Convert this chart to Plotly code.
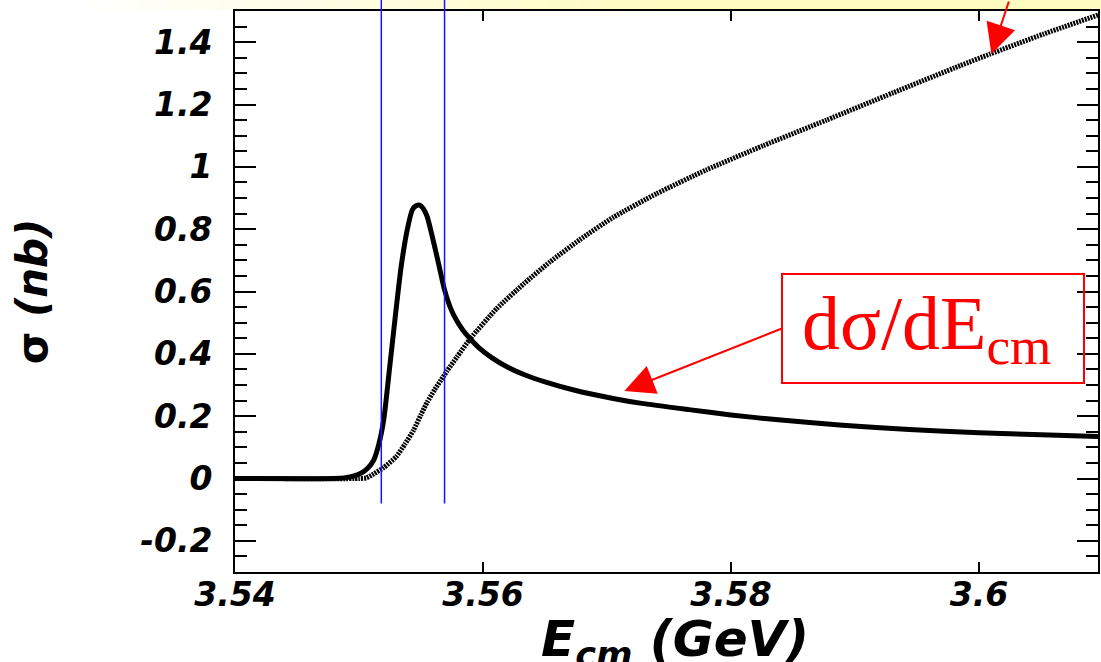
import numpy as np
import plotly.graph_objects as go

# ---------------- data ----------------
# differential cross section dσ/dE_cm (thick solid curve)
e_dsig = [3.5400, 3.5480, 3.5488, 3.5496, 3.5502, 3.5507, 3.5512, 3.5516, 3.5520,
          3.5524, 3.5529, 3.5534, 3.5539, 3.5543, 3.5546, 3.5549, 3.5552, 3.5555,
          3.5563, 3.5569, 3.5574, 3.5579, 3.5584, 3.5590, 3.5598, 3.5607, 3.5620,
          3.5634, 3.5650, 3.5674, 3.5706, 3.5728, 3.5766, 3.5800, 3.5836, 3.5890,
          3.5944, 3.6000, 3.6050, 3.6096]
dsig = [0.0, 0.0, 0.002, 0.008, 0.018, 0.033, 0.06, 0.11, 0.19,
        0.33, 0.51, 0.68, 0.80, 0.862, 0.875, 0.877, 0.865, 0.84,
        0.71, 0.605, 0.545, 0.505, 0.475, 0.447, 0.415, 0.388, 0.357,
        0.332, 0.310, 0.283, 0.256, 0.241, 0.221, 0.204, 0.189, 0.171,
        0.157, 0.147, 0.140, 0.135]

# total cross section σ (hatched curve)
e_sig = [3.5400, 3.5500, 3.5506, 3.5512, 3.5520, 3.5530, 3.5537, 3.5544, 3.5550,
         3.5555, 3.5561, 3.5566, 3.5571, 3.5579, 3.5590, 3.5611, 3.5633, 3.5654,
         3.5678, 3.5705, 3.5740, 3.5780, 3.5826, 3.5877, 3.5931, 3.5985, 3.6009,
         3.6052, 3.6096]
sig = [0.0, 0.0, 0.002, 0.015, 0.035, 0.07, 0.11, 0.155, 0.205,
       0.245, 0.285, 0.315, 0.345, 0.39, 0.45, 0.545, 0.625, 0.695,
       0.766, 0.838, 0.914, 0.99, 1.068, 1.150, 1.238, 1.325, 1.362,
       1.426, 1.487]

# energy window (blue vertical lines)
window_edges = [3.5518, 3.5569]
window_bottom = -0.08

x_range = [3.54, 3.6096]
y_range = [-0.3, 1.5]
x_tick_vals = [3.54, 3.56, 3.58, 3.60]
x_tick_text = ["3.54", "3.56", "3.58", "3.6"]
y_tick_vals = [-0.2, 0.0, 0.2, 0.4, 0.6, 0.8, 1.0, 1.2, 1.4]
y_tick_text = ["-0.2", "0", "0.2", "0.4", "0.6", "0.8", "1", "1.2", "1.4"]

x_title = "E<sub>cm</sub> (GeV)"
y_title = "σ <i>(nb)</i>"
box_label = "\u00a0dσ/dE<sub>cm</sub>"
box_center = (3.59628, 0.480)
box_arrow_tip = (3.5714, 0.281)
sigma_arrow_tip = (3.6010, 1.362)

# ---------------- figure ----------------
W, H = 1101, 662
ml, mr, mt, mb = 235, 3, 11, 90
pw, ph = W - ml - mr, H - mt - mb

fig = go.Figure()

fig.add_trace(go.Scatter(
    x=e_sig, y=sig, mode="lines",
    line=dict(color="black", width=5, dash="2px,1px", shape="spline", smoothing=0.5),
    hoverinfo="skip", showlegend=False))

fig.add_trace(go.Scatter(
    x=e_dsig, y=dsig, mode="lines",
    line=dict(color="black", width=5, shape="spline", smoothing=0.6),
    hoverinfo="skip", showlegend=False))

tick_font = dict(family="DejaVu Sans", size=33, color="black", weight="bold", style="italic")

fig.update_xaxes(
    range=x_range, tickmode="array", tickvals=x_tick_vals, ticktext=x_tick_text,
    ticks="inside", ticklen=10, tickwidth=2, tickcolor="black",
    showline=True, linewidth=2, linecolor="black", mirror="ticks",
    showgrid=False, zeroline=False, tickfont=tick_font, ticklabelstandoff=-8)

fig.update_yaxes(
    range=y_range, tickmode="array", tickvals=y_tick_vals, ticktext=y_tick_text,
    ticks="inside", ticklen=21, tickwidth=2, tickcolor="black",
    minor=dict(dtick=0.05, tick0=0, ticks="inside", ticklen=12, tickwidth=2, tickcolor="black"),
    showline=True, linewidth=2, linecolor="black", mirror="ticks",
    showgrid=False, zeroline=False, tickfont=tick_font, ticklabelstandoff=14,
    title=dict(text=y_title, standoff=80,
               font=dict(family="DejaVu Sans", size=42, color="black", weight="bold")))

# x-axis title (sits low under the tick labels, as in the reference)
fig.add_annotation(
    x=(675 - ml) / pw, y=1 - (608 - mt) / ph, xref="paper", yref="paper",
    xanchor="center", yanchor="top", text=x_title, showarrow=False,
    font=dict(family="DejaVu Sans", size=50, color="black", weight="bold", style="italic"))

# yellow slide band across the top (white -> pale yellow)
n_band = 40
for i in range(n_band):
    f = i / (n_band - 1)
    t = min(1.0, max(0.0, (f - 0.05) / 0.55))
    g = int(round(255 - 4 * t))
    b = int(round(255 - 62 * t))
    x0 = (i * W / n_band - ml) / pw
    x1 = ((i + 1) * W / n_band - ml + 1) / pw
    fig.add_shape(type="rect", xref="paper", yref="paper",
                  x0=x0, x1=x1, y0=1.0 + 1.0 / ph, y1=1.0 + (mt + 2) / ph,
                  fillcolor=f"rgb(255,{g},{b})", line=dict(width=0), layer="below")

# blue window lines (extend above the frame)
y_bot_paper = (window_bottom - y_range[0]) / (y_range[1] - y_range[0])
for xe in window_edges:
    fig.add_shape(type="line", xref="x", yref="paper",
                  x0=xe, x1=xe, y0=y_bot_paper, y1=1.0 + (mt + 2) / ph,
                  line=dict(color="rgb(20,20,255)", width=1.5), layer="above")

# red label box
fig.add_annotation(
    x=box_center[0], y=box_center[1], xref="x", yref="y", text=box_label,
    showarrow=False, font=dict(family="Liberation Serif", size=76, color="red"),
    bordercolor="red", borderwidth=2, borderpad=0, width=300, height=107,
    align="left", valign="middle")

# arrow from the box to the dσ/dE curve
fig.add_annotation(
    x=box_arrow_tip[0], y=box_arrow_tip[1], xref="x", yref="y", text="",
    showarrow=True, axref="pixel", ayref="pixel", ax=159, ay=-63,
    arrowhead=2, arrowsize=3, arrowwidth=2, arrowcolor="red", standoff=0)

# arrow from above pointing to the σ curve
fig.add_annotation(
    x=sigma_arrow_tip[0], y=sigma_arrow_tip[1], xref="x", yref="y", text="",
    showarrow=True, axref="pixel", ayref="pixel", ax=18, ay=-62,
    arrowhead=2, arrowsize=3, arrowwidth=2, arrowcolor="red", standoff=0)

fig.update_layout(
    width=W, height=H,
    margin=dict(l=ml, r=mr, t=mt, b=mb, autoexpand=False),
    paper_bgcolor="white", plot_bgcolor="white",
    showlegend=False)

fig.write_html("out.html")
